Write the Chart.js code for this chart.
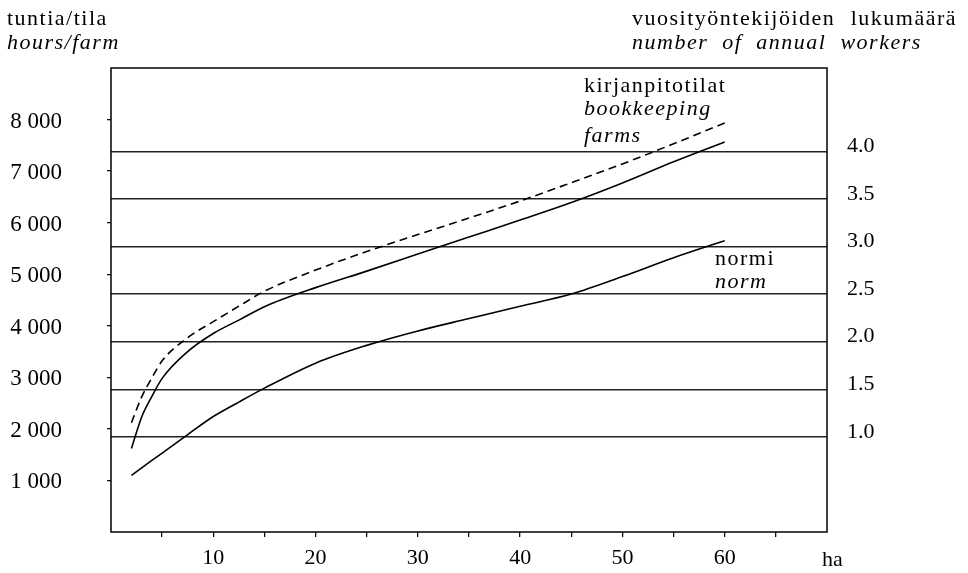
<!DOCTYPE html>
<html>
<head>
<meta charset="utf-8">
<script src="https://cdn.jsdelivr.net/npm/chart.js@4/dist/chart.umd.min.js"></script>
<style>
  html, body { margin: 0; padding: 0; background: #fff; }
  #wrap { width: 968px; height: 573px; }
</style>
</head>
<body>
<div id="wrap"><canvas id="work-chart" width="968" height="573"></canvas></div>
<script>
// farm size in hectares
const haValues = [2, 3, 4, 5, 7.5, 10, 12.5, 15, 20, 25, 30, 35, 40, 45, 50, 55, 60];
// hours per farm
const bookkeepingDashed = [2120, 2620, 2990, 3320, 3770, 4080, 4380, 4670, 5080, 5440, 5770, 6090, 6420, 6775, 7140, 7530, 7935];
const bookkeepingSolid = [1620, 2230, 2630, 2980, 3500, 3850, 4110, 4370, 4740, 5060, 5390, 5720, 6050, 6390, 6770, 7180, 7566];
const normHours = [1100, 1245, 1390, 1530, 1890, 2240, 2520, 2790, 3275, 3620, 3900, 4140, 4380, 4615, 4955, 5320, 5650];

// tick labels
const haTicks = [5, 10, 15, 20, 25, 30, 35, 40, 45, 50, 55, 60, 65];
const hourTicks = [1000, 2000, 3000, 4000, 5000, 6000, 7000, 8000];
const workerTicks = [1.0, 1.5, 2.0, 2.5, 3.0, 3.5, 4.0];

const SERIF = '"Liberation Serif", "DejaVu Serif", serif';

function toPoints(ys) {
    return haValues.map((x, i) => ({ x: x, y: ys[i] }));
}

// frame + free text around the plot
const textPlugin = {
    id: 'textPlugin',
    afterDraw(chart) {
        const ctx = chart.ctx;
        const a = chart.chartArea;
        ctx.save();
        ctx.strokeStyle = '#000';
        ctx.lineWidth = 1.5;
        ctx.strokeRect(a.left, a.top, a.right - a.left, a.bottom - a.top);

        ctx.fillStyle = '#000';
        ctx.textBaseline = 'alphabetic';
        ctx.textAlign = 'left';
        ctx.letterSpacing = '1.5px';
        const put = (txt, x, y, italic) => {
            ctx.font = (italic ? 'italic ' : '') + '22px ' + SERIF;
            ctx.fillText(txt, x, y);
        };
        put('tuntia/tila', 7, 25, false);
        put('hours/farm', 7, 49, true);
        put('vuosityöntekijöiden', 632, 25, false);
        ctx.textAlign = 'right';
        put('lukumäärä', 957, 25, false);
        ctx.textAlign = 'left';
        put('number  of  annual  workers', 632, 49, true);
        put('kirjanpitotilat', 584, 92, false);
        put('bookkeeping', 584, 115, true);
        put('farms', 584, 142, true);
        put('normi', 715, 265, false);
        put('norm', 715, 288, true);
        ctx.letterSpacing = '0px';
        put('ha', 822, 566, false);
        ctx.restore();
    }
};

function noEdgePad(s) {
    s.paddingTop = 0;
    s.paddingBottom = 0;
}

document.addEventListener('DOMContentLoaded', function() {
    var ctx = document.getElementById('work-chart');
    var chart = new Chart(ctx, {
        type: 'line',
        data: {
            datasets: [
                {
                    label: 'kirjanpitotilat (katkoviiva)',
                    data: toPoints(bookkeepingDashed),
                    borderColor: '#000',
                    borderWidth: 1.6,
                    borderDash: [8, 5],
                    pointRadius: 0,
                    cubicInterpolationMode: 'monotone',
                    yAxisID: 'y'
                },
                {
                    label: 'kirjanpitotilat',
                    data: toPoints(bookkeepingSolid),
                    borderColor: '#000',
                    borderWidth: 1.6,
                    pointRadius: 0,
                    cubicInterpolationMode: 'monotone',
                    yAxisID: 'y'
                },
                {
                    label: 'normi',
                    data: toPoints(normHours),
                    borderColor: '#000',
                    borderWidth: 1.6,
                    pointRadius: 0,
                    cubicInterpolationMode: 'monotone',
                    yAxisID: 'y'
                }
            ]
        },
        options: {
            responsive: false,
            animation: false,
            devicePixelRatio: 1,
            layout: { padding: { top: 68, left: 0, right: 0, bottom: 0 } },
            plugins: {
                legend: { display: false },
                tooltip: { enabled: false }
            },
            scales: {
                x: {
                    type: 'linear',
                    min: 0,
                    max: 70,
                    afterBuildTicks: s => { s.ticks = haTicks.map(v => ({ value: v })); },
                    afterFit: s => { s.height = 41; s.paddingLeft = 0; s.paddingRight = 0; },
                    border: { display: false },
                    grid: { drawOnChartArea: false, drawTicks: true, tickLength: 5, color: '#111', lineWidth: 1.3 },
                    ticks: {
                        autoSkip: false,
                        maxRotation: 0,
                        padding: 8,
                        color: '#000',
                        font: { family: SERIF, size: 22 },
                        callback: v => (v % 10 === 0 ? String(v) : '')
                    }
                },
                y: {
                    position: 'left',
                    min: 0,
                    max: 9000,
                    afterBuildTicks: s => { s.ticks = hourTicks.map(v => ({ value: v })); },
                    afterFit: s => { s.width = 111; noEdgePad(s); },
                    border: { display: false },
                    grid: { drawOnChartArea: false, drawTicks: true, tickLength: 4, color: '#111', lineWidth: 1.3 },
                    ticks: {
                        padding: 45,
                        color: '#000',
                        labelOffset: 2,
                        font: { family: SERIF, size: 23 },
                        callback: v => String(v).replace(/\B(?=(\d{3})+(?!\d))/g, ' ')
                    }
                },
                y2: {
                    position: 'right',
                    min: 0,
                    max: 4.874,
                    afterBuildTicks: s => { s.ticks = workerTicks.map(v => ({ value: v })); },
                    afterFit: s => { s.width = 141; noEdgePad(s); },
                    border: { display: false },
                    grid: { drawOnChartArea: true, drawTicks: false, color: '#222', lineWidth: 1.4 },
                    ticks: {
                        padding: 20,
                        color: '#000',
                        labelOffset: -5,
                        font: { family: SERIF, size: 22 },
                        callback: v => v.toFixed(1)
                    }
                }
            }
        },
        plugins: [textPlugin]
    });
});
</script>
</body>
</html>
